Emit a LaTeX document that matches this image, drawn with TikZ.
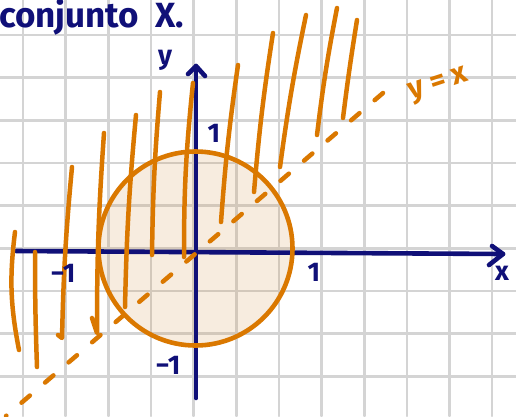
\documentclass[tikz,border=0pt]{standalone}
\usepackage{fontspec}
\setmainfont{Fira Sans}
\definecolor{navy}{RGB}{16,16,120}
\definecolor{org}{RGB}{218,120,0}
\definecolor{gridc}{RGB}{212,212,212}
\definecolor{peach}{RGB}{208,142,62}
\begin{document}
\begin{tikzpicture}[x=1pt,y=-1pt,line cap=round,line join=round,
  gridline/.style={gridc,line width=2.6pt},
  axis/.style={navy,line width=4.6pt},
  hatch/.style={org,line width=4.5pt},
  lbl/.style={navy,inner sep=0pt,font=\bfseries\fontsize{27}{27}\selectfont},
  olbl/.style={org,inner sep=0pt,font=\bfseries\fontsize{30}{30}\selectfont}]
\useasboundingbox (0,0) rectangle (516,416);
\fill[white] (0,0) rectangle (516,416);
% grid
\foreach \i in {0,...,11} \draw[gridline] ({23+42.65*\i},0) -- ({23+42.65*\i},416);
\foreach \j in {0,...,8} \draw[gridline] (0,{35+42.65*\j}) -- (516,{35+42.65*\j});
% disc fill
\coordinate (c) at (195.5,248.5);
\fill[peach,fill opacity=0.16] (c) circle (97);
% axes
\coordinate (xs) at (16,251);
\coordinate (xe) at (503,254);
\coordinate (xa1) at (492,246);
\coordinate (xa2) at (489,265);
\coordinate (ys) at (196,398);
\coordinate (ye) at (196,66);
\coordinate (ya1) at (188,74);
\coordinate (ya2) at (205,76);
\draw[axis] (xs) -- (xe);
\draw[axis] (xa1) -- (xe) -- (xa2);
\draw[axis] (ys) -- (ye);
\draw[axis] (ya1) -- (ye) -- (ya2);
% circle outline
\draw[org,line width=4.6pt] (c) circle (97);
% hatching
\draw[hatch] (15,232) to[bend right=9] (19,350);
\draw[hatch] (35,252) to[bend right=1] (37,367);
\draw[hatch] (72,167) to[bend right=2] (62,338) -- (58,335);
\draw[hatch] (104,133) to[bend right=2] (97,333) -- (92,318);
\draw[hatch] (136,115) to[bend right=2] (125,307);
\draw[hatch] (160,92) to[bend right=2] (152,255);
\draw[hatch] (193,83) to[bend right=3] (184,257);
\draw[hatch] (238,65) to[bend right=2] (221,222);
\draw[hatch] (273,33) to[bend right=2] (254,192);
\draw[hatch] (306,15) to[bend right=2] (280,167);
\draw[hatch] (337,8) to[bend right=2] (317,135);
\draw[hatch] (357,20) to[bend right=1] (343,118);
% line y = x (dashed)
\coordinate (d1) at (383,93);
\coordinate (d2) at (6,416);
\draw[org,line width=4.5pt,dash pattern=on 11pt off 20pt] (d1) -- (d2);
% labels
\node[navy,inner sep=0pt,anchor=base west,font=\bfseries\fontsize{35}{35}\selectfont] (title) at (-1,27) {conjunto\hspace{16pt}X.};
\node[lbl] (ylab) at (165,60) {y};
\node[lbl] (xlab) at (502,273) {x};
\node[lbl] (oney) at (214,133) {1};
\node[lbl] (onex) at (314,272) {1};
\node[lbl] (mx) at (63,273) {−1};
\node[lbl] (my) at (168,365) {−1};
\node[olbl,rotate=18] (yx) at (439,86) {y = x};
\end{tikzpicture}
\end{document}
